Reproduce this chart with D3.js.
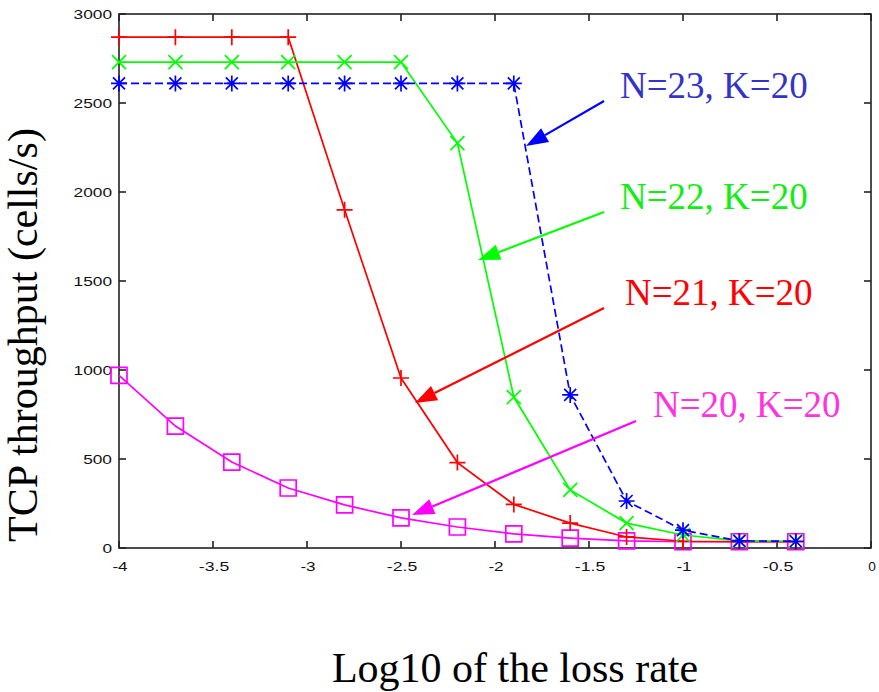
<!DOCTYPE html>
<html>
<head>
<meta charset="utf-8">
<script src="https://cdn.jsdelivr.net/npm/d3@7"></script>
<style>
  body { margin: 0; background: #fff; }
  svg { display: block; }
  .tick-label { font-family: "Liberation Sans", Arial, sans-serif; font-size: 13px; fill: #111; }
  .title { font-family: "Liberation Serif", "Times New Roman", serif; fill: #000; }
  .note { font-family: "Liberation Serif", "Times New Roman", serif; font-size: 37px; }
</style>
</head>
<body>
<svg id="chart" width="879" height="692"></svg>
<script>
// log10 of loss rate
var lossRates = [-4, -3.7, -3.4, -3.1, -2.8, -2.5, -2.2, -1.9, -1.6, -1.3, -1.0, -0.7, -0.4];

// throughput (cells/s) per configuration
var n21 = [2870, 2870, 2870, 2870, 1900, 955, 480, 245, 140, 62, 38, 36, 35];
var n22 = [2730, 2730, 2730, 2730, 2730, 2730, 2275, 848, 326, 140, 73, 40, 38];
var n23 = [2610, 2610, 2610, 2610, 2610, 2610, 2610, 2610, 860, 264, 100, 40, 38];
var n20 = [970, 685, 483, 337, 242, 169, 118, 79, 56, 40, 35, 35, 35];

var xTicks = [-4, -3.5, -3, -2.5, -2, -1.5, -1, -0.5, 0];
var xTickLabels = ["-4", "-3.5", "-3", "-2.5", "-2", "-1.5", "-1", "-0.5", "0"];
var yTicks = [0, 500, 1000, 1500, 2000, 2500, 3000];

var seriesNames = ["N=23, K=20", "N=22, K=20", "N=21, K=20", "N=20, K=20"];
var seriesColors = ["#0000ff", "#00ff00", "#ff0000", "#ff00ff"];
var noteColors = ["#3333cc", "#11ee11", "#ff0000", "#ff33dd"];
var seriesMarkers = ["star", "cross", "plus", "square"];
// annotation: label anchor and arrow start/tip, in data units
var noteLabelAt = [[-1.335, 2528], [-1.335, 1905], [-1.309, 1365], [-1.16, 736]];
var noteArrowFrom = [[-1.42, 2511], [-1.42, 1888], [-1.42, 1348], [-1.25, 713]];
var noteArrowTo = [[-1.835, 2258], [-2.09, 1618], [-2.426, 815], [-2.441, 185]];

var svg = d3.select("#chart");
var plotLeft = 119, plotRight = 871, plotTop = 14, plotBottom = 548;

var x = d3.scaleLinear().domain([-4, 0]).range([plotLeft, plotRight]);
var y = d3.scaleLinear().domain([0, 3000]).range([plotBottom, plotTop]);

var seriesValues = [n23, n22, n21, n20];

// frame
svg.append("rect")
    .attr("x", plotLeft).attr("y", plotTop)
    .attr("width", plotRight - plotLeft).attr("height", plotBottom - plotTop)
    .attr("fill", "none").attr("stroke", "#222").attr("stroke-width", 1.6);

var tickLen = 7;
var ticks = svg.append("g").attr("stroke", "#222").attr("stroke-width", 1.6);
xTicks.forEach(function(t) {
    ticks.append("line").attr("x1", x(t)).attr("x2", x(t)).attr("y1", plotBottom).attr("y2", plotBottom - tickLen);
    ticks.append("line").attr("x1", x(t)).attr("x2", x(t)).attr("y1", plotTop).attr("y2", plotTop + tickLen);
});
yTicks.forEach(function(t) {
    ticks.append("line").attr("x1", plotLeft).attr("x2", plotLeft + tickLen).attr("y1", y(t)).attr("y2", y(t));
    ticks.append("line").attr("x1", plotRight).attr("x2", plotRight - tickLen).attr("y1", y(t)).attr("y2", y(t));
});

// tick labels, drawn wide like the original
svg.selectAll(".xl").data(xTicks).enter().append("text")
    .attr("class", "tick-label")
    .attr("x", function(d) { return x(d) + 1; })
    .attr("y", 571)
    .attr("text-anchor", "middle")
    .attr("textLength", function(d, i) { return xTickLabels[i].length * 7.6; })
    .attr("lengthAdjust", "spacingAndGlyphs")
    .text(function(d, i) { return xTickLabels[i]; });

svg.selectAll(".yl").data(yTicks).enter().append("text")
    .attr("class", "tick-label")
    .attr("x", 112)
    .attr("y", function(d) { return y(d) + 5; })
    .attr("text-anchor", "end")
    .attr("textLength", function(d) { return String(d).length * 9.6; })
    .attr("lengthAdjust", "spacingAndGlyphs")
    .text(function(d) { return d; });

// axis titles
svg.append("text").attr("class", "title")
    .attr("x", 515).attr("y", 682)
    .attr("text-anchor", "middle")
    .style("font-size", "42px")
    .text("Log10 of the loss rate");

svg.append("text").attr("class", "title")
    .attr("transform", "translate(37,335) rotate(-90)")
    .attr("text-anchor", "middle")
    .style("font-size", "42px")
    .text("TCP throughput (cells/s)");

// data lines
var line = d3.line()
    .x(function(d, i) { return x(lossRates[i]); })
    .y(function(d) { return y(d); });

function markerPath(type) {
    var p = d3.path(), s = 8;
    if (type === "plus" || type === "star") {
        p.moveTo(-s, 0); p.lineTo(s, 0);
        p.moveTo(0, -s); p.lineTo(0, s);
    }
    if (type === "cross" || type === "star") {
        var c = type === "star" ? 6 : 7;
        p.moveTo(-c, -c); p.lineTo(c, c);
        p.moveTo(-c, c); p.lineTo(c, -c);
    }
    if (type === "square") {
        p.rect(-8, -8, 16, 16);
    }
    return p.toString();
}

// draw N=20 first, then 21, 22, 23 on top
[3, 2, 1, 0].forEach(function(k) {
    var g = svg.append("g");
    g.append("path")
        .datum(seriesValues[k])
        .attr("d", line)
        .attr("fill", "none")
        .attr("stroke", seriesColors[k])
        .attr("stroke-width", 1.7)
        .attr("stroke-dasharray", k === 0 ? "8,4" : null);
    g.selectAll(".m").data(seriesValues[k]).enter().append("path")
        .attr("transform", function(d, i) { return "translate(" + x(lossRates[i]) + "," + y(d) + ")"; })
        .attr("d", markerPath(seriesMarkers[k]))
        .attr("fill", "none")
        .attr("stroke", seriesColors[k])
        .attr("stroke-width", 1.7);
});

// annotations with arrows
seriesNames.forEach(function(name, k) {
    var x0 = x(noteArrowFrom[k][0]), y0 = y(noteArrowFrom[k][1]);
    var x1 = x(noteArrowTo[k][0]), y1 = y(noteArrowTo[k][1]);
    var ang = Math.atan2(y1 - y0, x1 - x0);
    var headLen = 22, headW = 8;
    var bx = x1 - headLen * Math.cos(ang), by = y1 - headLen * Math.sin(ang);
    svg.append("line")
        .attr("x1", x0).attr("y1", y0).attr("x2", bx).attr("y2", by)
        .attr("stroke", seriesColors[k]).attr("stroke-width", 2.2);
    var px = -Math.sin(ang) * headW, py = Math.cos(ang) * headW;
    svg.append("path")
        .attr("d", "M" + x1 + "," + y1 + "L" + (bx + px) + "," + (by + py) + "L" + (bx - px) + "," + (by - py) + "Z")
        .attr("fill", seriesColors[k]);
    svg.append("text").attr("class", "note")
        .attr("x", x(noteLabelAt[k][0])).attr("y", y(noteLabelAt[k][1]))
        .attr("fill", noteColors[k])
        .text(name);
});
</script>
</body>
</html>
